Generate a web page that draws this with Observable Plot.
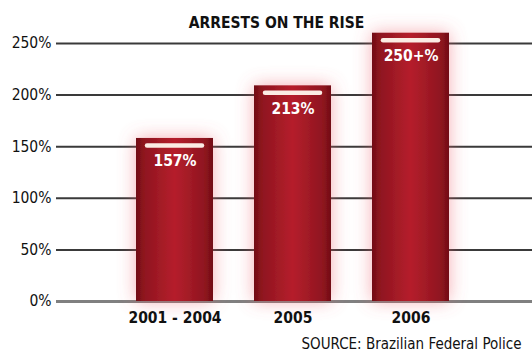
<!DOCTYPE html>
<html>
<head>
<meta charset="utf-8">
<script src="https://cdn.jsdelivr.net/npm/d3@7"></script>
<script src="https://cdn.jsdelivr.net/npm/@observablehq/plot@0.6"></script>
<style>
  html, body { margin: 0; padding: 0; background: #fff; }
  svg { font-family: "DejaVu Sans Condensed", "DejaVu Sans", sans-serif; }
</style>
</head>
<body>
<div id="chart"></div>
<script>
const categories = ["2001 - 2004", "2005", "2006"];
const values = [158, 209, 260];
const labels = ["157%", "213%", "250+%"];
const yTicks = [0, 50, 100, 150, 200, 250];
const title = "ARRESTS ON THE RISE";
const source = "SOURCE: Brazilian Federal Police";

const data = categories.map((c, i) => ({cat: c, value: values[i], label: labels[i]}));

const defs = () => {
  const d = d3.create("svg:defs");
  const g = d.append("linearGradient").attr("id", "barGrad").attr("x1", "0").attr("x2", "1").attr("y1", "0").attr("y2", "0");
  [["0%", "#710d14"], ["10%", "#8e151f"], ["50%", "#b51f2c"], ["90%", "#8e151f"], ["100%", "#710d14"]]
    .forEach(([o, c]) => g.append("stop").attr("offset", o).attr("stop-color", c));
  const f = d.append("filter").attr("id", "glow").attr("x", "-80%").attr("y", "-40%").attr("width", "260%").attr("height", "180%");
  f.append("feGaussianBlur").attr("in", "SourceAlpha").attr("stdDeviation", 9).attr("result", "b");
  f.append("feFlood").attr("flood-color", "#ec5a66").attr("flood-opacity", 0.5).attr("result", "c");
  f.append("feComposite").attr("in", "c").attr("in2", "b").attr("operator", "in").attr("result", "g");
  const m = f.append("feMerge");
  m.append("feMergeNode").attr("in", "g");
  m.append("feMergeNode").attr("in", "SourceGraphic");
  return d.node();
};

const chart = Plot.plot({
  width: 532,
  height: 360,
  marginTop: 43,
  marginBottom: 59,
  marginLeft: 56,
  marginRight: 0,
  style: {fontFamily: "DejaVu Sans Condensed, DejaVu Sans, sans-serif", fontSize: "15px", color: "#111"},
  x: {domain: categories, range: [94, 491.5], padding: 0.35, label: null},
  y: {domain: [0, 250], label: null},
  marks: [
    defs,
    Plot.ruleY(yTicks.filter(t => t > 0), {stroke: "#3a3a3a", strokeWidth: 2}),
    Plot.ruleY([0], {stroke: "#808080", strokeWidth: 3}),
    Plot.barY(data, {x: "cat", y: "value", fill: "url(#barGrad)"}),
    Plot.tickY(data, {x: "cat", y: "value", dy: 7, inset: 11, stroke: "#fbece4", strokeWidth: 4.5, strokeLinecap: "round"}),
    Plot.text(data, {x: "cat", y: "value", text: "label", dy: 23, fill: "#fff", fontWeight: "bold", fontSize: 15.5}),
    Plot.axisY({ticks: yTicks, tickSize: 0, tickPadding: 5, tickFormat: d => d + "%", fontSize: 15.5, fill: "#111"}),
    Plot.axisX({tickSize: 0, tickPadding: 10, fontWeight: "bold", fontSize: 15.5, fill: "#111"}),
    Plot.text([title], {frameAnchor: "top", dx: -18, dy: -26.5, fontWeight: "bold", fontSize: 15.5, fill: "#111"}),
    Plot.text([source], {frameAnchor: "bottom-right", textAnchor: "end", dx: -11, dy: 47, fontSize: 15, fill: "#111"})
  ]
});

chart.querySelectorAll('g[aria-label="bar"]').forEach(g => g.setAttribute("filter", "url(#glow)"));
document.getElementById("chart").appendChild(chart);
</script>
</body>
</html>
